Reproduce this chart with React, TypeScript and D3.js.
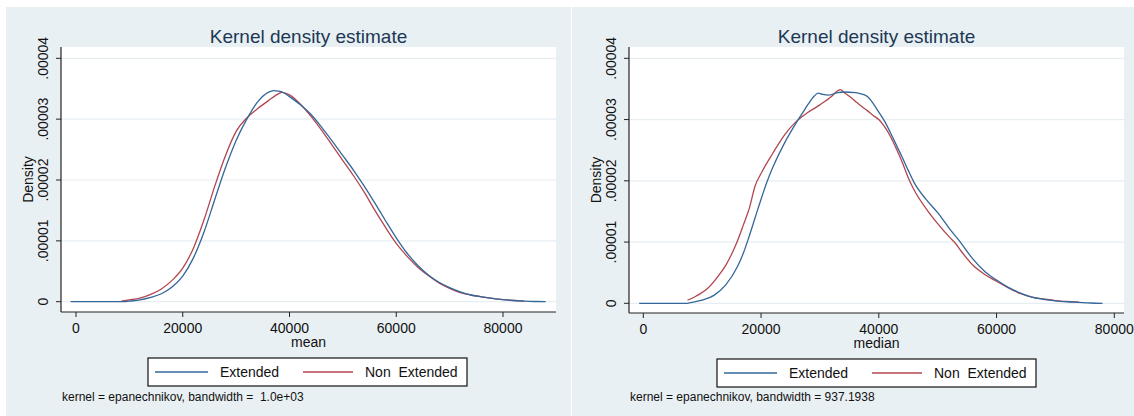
import React from "react";
import * as d3 from "d3";

// ---------- DATA ----------
const yTicks = [0, 0.00001, 0.00002, 0.00003, 0.00004];
const yTickLabels = ["0", ".00001", ".00002", ".00003", ".00004"];
const xTicks = [0, 20000, 40000, 60000, 80000];
const seriesNames = ["Extended", "Non  Extended"];

// Left panel (mean): x in thousands, density in 1e-5
const meanExtX = [-1, 5, 9, 10, 12, 14, 16, 18, 20, 22, 24, 26, 28, 30, 32, 34, 36, 37, 38, 39, 40, 42, 44, 46, 48, 50, 52, 54, 56, 58, 60, 62, 64, 66, 68, 70, 72, 74, 76, 78, 80, 82, 84, 86, 88];
const meanExtY = [0, 0, 0, 0.01, 0.03, 0.07, 0.13, 0.24, 0.42, 0.72, 1.15, 1.68, 2.2, 2.65, 3.0, 3.28, 3.44, 3.47, 3.46, 3.43, 3.37, 3.24, 3.08, 2.87, 2.64, 2.4, 2.16, 1.9, 1.62, 1.33, 1.05, 0.8, 0.6, 0.44, 0.32, 0.23, 0.16, 0.11, 0.08, 0.055, 0.035, 0.02, 0.01, 0.003, 0];
const meanNonX = [8.5, 10, 12, 14, 16, 18, 20, 22, 24, 26, 28, 30, 32, 34, 36, 38, 38.6, 40, 42, 44, 46, 48, 50, 52, 54, 56, 58, 60, 62, 64, 66, 68, 70, 72, 74, 76, 78, 80, 82, 84];
const meanNonY = [0.01, 0.03, 0.06, 0.12, 0.21, 0.35, 0.55, 0.88, 1.35, 1.9, 2.4, 2.8, 3.02, 3.17, 3.3, 3.42, 3.44, 3.4, 3.25, 3.05, 2.82, 2.57, 2.32, 2.07, 1.8, 1.5, 1.22, 0.96, 0.75, 0.57, 0.43, 0.31, 0.22, 0.15, 0.11, 0.08, 0.055, 0.035, 0.02, 0.008];

// Right panel (median)
const medExtX = [-0.7, 7.5, 8, 10, 12, 14, 16, 17, 18, 19, 20, 21, 22, 24, 26, 27, 28, 29, 29.7, 30.5, 31.5, 33, 34, 36, 37, 38, 39, 40, 41, 42, 43, 44, 45, 46, 48, 50, 52, 54, 56, 58, 60, 62, 64, 66, 68, 70, 72, 74, 76, 78];
const medExtY = [0, 0, 0.01, 0.05, 0.13, 0.3, 0.6, 0.82, 1.1, 1.4, 1.7, 1.98, 2.22, 2.62, 2.95, 3.1, 3.25, 3.38, 3.43, 3.41, 3.4, 3.44, 3.45, 3.44, 3.42, 3.38, 3.27, 3.12, 2.97, 2.78, 2.58, 2.38, 2.17, 1.97, 1.7, 1.48, 1.22, 0.98, 0.72, 0.52, 0.38, 0.26, 0.17, 0.1, 0.065, 0.04, 0.025, 0.015, 0.005, 0];
const medNonX = [7.5, 9, 11, 13, 14, 15, 16, 17, 18, 19, 20, 22, 24, 26, 27, 28, 30, 32, 33, 33.5, 34, 35, 36, 37, 38, 39, 40, 41, 42, 43, 44, 45, 46, 48, 50, 52, 53, 54, 56, 58, 60, 62, 64, 66, 68, 70, 72, 74];
const medNonY = [0.05, 0.12, 0.25, 0.48, 0.62, 0.8, 1.02, 1.28, 1.55, 1.92, 2.12, 2.45, 2.75, 2.97, 3.05, 3.12, 3.24, 3.38, 3.47, 3.49, 3.45, 3.38, 3.3, 3.22, 3.15, 3.07, 3.0, 2.88, 2.72, 2.52, 2.3, 2.05, 1.85, 1.55, 1.3, 1.08, 0.98, 0.85, 0.62, 0.47, 0.36, 0.25, 0.16, 0.1, 0.07, 0.045, 0.03, 0.02];

const panels = [
  {
    title: "Kernel density estimate",
    xLabel: "mean",
    note: "kernel = epanechnikov, bandwidth =  1.0e+03",
    ext: { x: meanExtX, y: meanExtY },
    non: { x: meanNonX, y: meanNonY },
  },
  {
    title: "Kernel density estimate",
    xLabel: "median",
    note: "kernel = epanechnikov, bandwidth = 937.1938",
    ext: { x: medExtX, y: medExtY },
    non: { x: medNonX, y: medNonY },
  },
];

// ---------- LAYOUT ----------
const layouts = [
  { bgX: 6, bgW: 565, left: 61, right: 556, top: 47, axisY: 312, x0: 76, x80: 503, y0: 301.7, y4: 58.3, legX: 148, legY: 358 },
  { bgX: 572, bgW: 562, left: 629, right: 1124, top: 47, axisY: 313, x0: 643.3, x80: 1114.3, y0: 303.3, y4: 58.3, legX: 717, legY: 359 },
];

const BLUE = "#33679a";
const RED = "#b2464f";
const FONT = "Liberation Sans, Arial, sans-serif";

function Panel({ p, L }: any) {
  const x = d3.scaleLinear().domain([0, 80000]).range([L.x0, L.x80]);
  const y = d3.scaleLinear().domain([0, 0.00004]).range([L.y0, L.y4]);
  const line = d3
    .line<[number, number]>()
    .x((d) => x(d[0] * 1000))
    .y((d) => y(d[1] * 1e-5))
    .curve(d3.curveMonotoneX);
  const extPts = p.ext.x.map((v: number, i: number) => [v, p.ext.y[i]] as [number, number]);
  const nonPts = p.non.x.map((v: number, i: number) => [v, p.non.y[i]] as [number, number]);
  const cx = (L.left + L.right) / 2;
  const cy = (L.top + L.axisY) / 2;
  const legW = 319;
  const legH = 28;
  return (
    <g>
      <rect x={L.bgX} y={7} width={L.bgW} height={409} fill="#e9f0f3" />
      <rect x={L.left} y={L.top} width={L.right - L.left} height={L.axisY - L.top} fill="#ffffff" />
      <text x={cx} y={43} textAnchor="middle" fontSize={19} fill="#1c3755" fontFamily={FONT}>
        {p.title}
      </text>
      {yTicks.map((t, i) => (
        <g key={i}>
          <line x1={L.left} x2={L.right} y1={y(t)} y2={y(t)} stroke="#e6eef2" strokeWidth={1.2} />
          <line x1={L.left - 5} x2={L.left} y1={y(t)} y2={y(t)} stroke="#222" strokeWidth={1} />
          <text
            transform={`translate(${L.left - 13},${y(t)}) rotate(-90)`}
            textAnchor="middle"
            fontSize={14}
            fill="#111"
            fontFamily={FONT}
          >
            {yTickLabels[i]}
          </text>
        </g>
      ))}
      <text
        transform={`translate(${L.left - 28},${cy}) rotate(-90)`}
        textAnchor="middle"
        fontSize={14}
        fill="#111"
        fontFamily={FONT}
      >
        Density
      </text>
      {xTicks.map((t, i) => (
        <g key={i}>
          <line x1={x(t)} x2={x(t)} y1={L.axisY} y2={L.axisY + 5} stroke="#222" strokeWidth={1} />
          <text x={x(t)} y={L.axisY + 21} textAnchor="middle" fontSize={14} fill="#111" fontFamily={FONT}>
            {t}
          </text>
        </g>
      ))}
      <text x={cx} y={L.axisY + 35} textAnchor="middle" fontSize={14} fill="#111" fontFamily={FONT}>
        {p.xLabel}
      </text>
      <line x1={L.left} x2={L.left} y1={L.top} y2={L.axisY} stroke="#222" strokeWidth={1.2} />
      <line x1={L.left} x2={L.right} y1={L.axisY} y2={L.axisY} stroke="#222" strokeWidth={1.2} />
      <path d={line(nonPts) || ""} fill="none" stroke={RED} strokeWidth={1.3} />
      <path d={line(extPts) || ""} fill="none" stroke={BLUE} strokeWidth={1.3} />
      <g>
        <rect x={L.legX} y={L.legY} width={legW} height={legH} fill="#fff" stroke="#111" strokeWidth={1.2} />
        <line x1={L.legX + 7} x2={L.legX + 60} y1={L.legY + legH / 2} y2={L.legY + legH / 2} stroke={BLUE} strokeWidth={1.3} />
        <text x={L.legX + 72} y={L.legY + 19} fontSize={14} fill="#111" fontFamily={FONT}>
          {seriesNames[0]}
        </text>
        <line x1={L.legX + 155} x2={L.legX + 205} y1={L.legY + legH / 2} y2={L.legY + legH / 2} stroke={RED} strokeWidth={1.3} />
        <text x={L.legX + 217} y={L.legY + 19} fontSize={14} fill="#111" fontFamily={FONT} style={{ whiteSpace: "pre" }}>
          {seriesNames[1]}
        </text>
      </g>
      <text x={L.left + 1} y={401} fontSize={12} fill="#111" fontFamily={FONT} style={{ whiteSpace: "pre" }}>
        {p.note}
      </text>
    </g>
  );
}

export default function App() {
  return (
    <svg
      width={1134}
      height={416}
      style={{ position: "absolute", left: 0, top: 0, background: "#fff" }}
    >
      <rect x={0} y={0} width={1134} height={416} fill="#ffffff" />
      {panels.map((p, i) => (
        <Panel key={i} p={p} L={layouts[i]} />
      ))}
    </svg>
  );
}
